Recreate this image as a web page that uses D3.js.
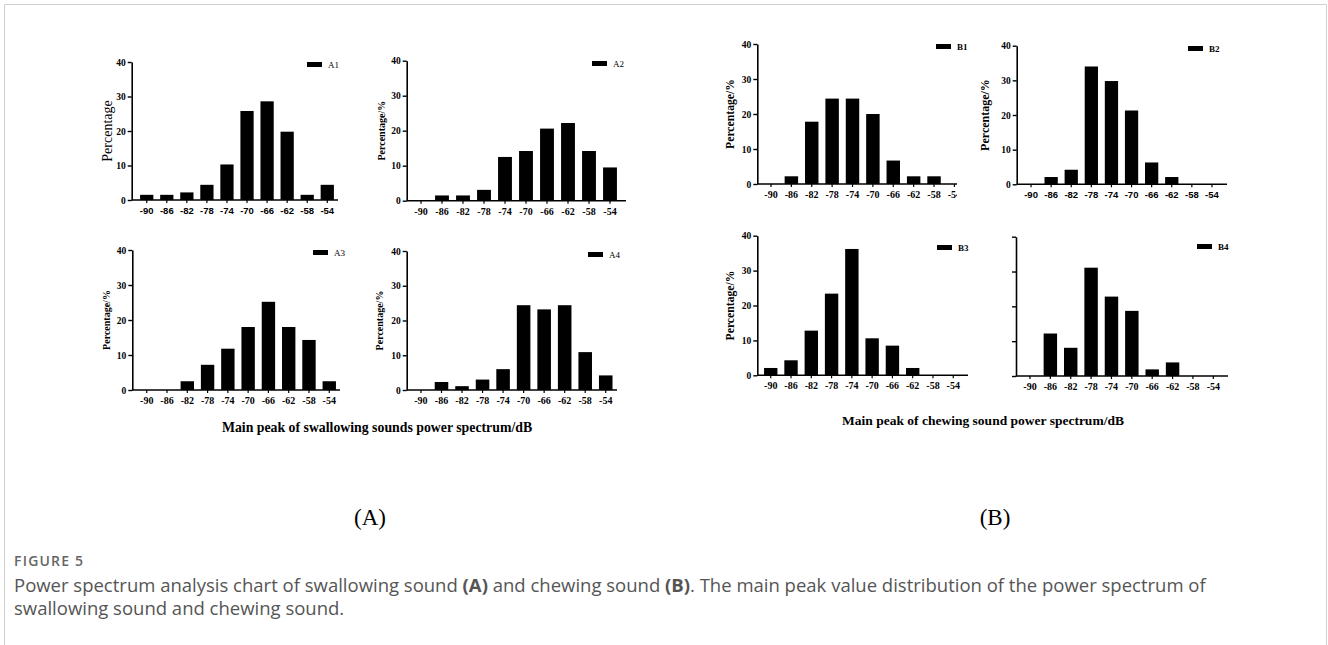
<!DOCTYPE html>
<html>
<head>
<meta charset="utf-8">
<script src="https://cdn.jsdelivr.net/npm/d3@7"></script>
<style>
  body { margin: 0; background: #fff; }
  svg { display: block; }
</style>
</head>
<body>
<svg id="figure"></svg>
<script>
// Categories (main peak, dB) and percentages per panel
const categories = ["-90", "-86", "-82", "-78", "-74", "-70", "-66", "-62", "-58", "-54"];
const yTickValues = [0, 10, 20, 30, 40];

// swallowing sounds
const a1Values = [1.5, 1.5, 2.2, 4.4, 10.3, 25.8, 28.6, 19.8, 1.5, 4.4];
const a2Values = [0, 1.5, 1.5, 3.1, 12.5, 14.2, 20.6, 22.2, 14.2, 9.5];
const a3Values = [0, 0, 2.5, 7.2, 11.8, 18.0, 25.2, 18.0, 14.3, 2.5];
const a4Values = [0, 2.3, 1.1, 3.0, 6.0, 24.4, 23.2, 24.4, 10.9, 4.2];

// chewing sounds
const b1Values = [0, 2.2, 17.8, 24.4, 24.4, 20.0, 6.7, 2.2, 2.2, 0];
const b2Values = [0, 2.1, 4.2, 34.0, 29.8, 21.3, 6.3, 2.1, 0, 0];
const b3Values = [2.1, 4.3, 12.8, 23.4, 36.2, 10.6, 8.5, 2.1, 0, 0];
const b4Values = [0, 12.2, 8.1, 31.1, 22.8, 18.7, 1.9, 3.9, 0, 0];

const serif = "'Liberation Serif', 'Times New Roman', serif";
const sans = "'Liberation Sans', Arial, sans-serif";

var svg = d3.select('#figure')
    .attr("width", 1328)
    .attr("height", 645);

// page frame
svg.append("path")
    .attr("d", "M4.5,645 V4.5 H1326.5 V645")
    .attr("fill", "none")
    .attr("stroke", "#cfcfcf")
    .attr("stroke-width", 1);

// panel layout: axis origin, band range, y pixel of 0 and 40
var panels = [
    { id: "a1", name: "A1", values: a1Values, axisX: 131.7, axisEnd: 338, band: [136.7, 337.3], y0: 200, y40: 62,
      title: "Percentage", titleX: 107, titleBold: false, titleSize: 14, tickFont: sans, tickSize: 9.5, legX: 307, legY: 62 },
    { id: "a2", name: "A2", values: a2Values, axisX: 406.7, axisEnd: 626, band: [410.5, 620.5], y0: 200.7, y40: 60.7,
      title: "Percentage/%", titleX: 381, titleBold: true, titleSize: 10, tickFont: serif, tickSize: 10, legX: 592, legY: 61 },
    { id: "a3", name: "A3", values: a3Values, axisX: 132.3, axisEnd: 340, band: [136.6, 339.4], y0: 390, y40: 250,
      title: "Percentage/%", titleX: 106, titleBold: true, titleSize: 10, tickFont: serif, tickSize: 10, legX: 313, legY: 250 },
    { id: "a4", name: "A4", values: a4Values, axisX: 406.7, axisEnd: 617, band: [410.7, 616], y0: 390, y40: 251,
      title: "Percentage/%", titleX: 379, titleBold: true, titleSize: 10, tickFont: serif, tickSize: 10, legX: 588, legY: 252 },
    { id: "b1", name: "B1", values: b1Values, axisX: 757.3, axisEnd: 957, band: [760.8, 964.6], y0: 184, y40: 44,
      title: "Percentage/%", titleX: 730, titleBold: true, titleSize: 11.7, tickFont: serif, tickSize: 10, legX: 936, legY: 44, clipX: 957 },
    { id: "b2", name: "B2", values: b2Values, axisX: 1016.7, axisEnd: 1227, band: [1021, 1222], y0: 184.3, y40: 45.7,
      title: "Percentage/%", titleX: 985, titleBold: true, titleSize: 12, tickFont: sans, tickSize: 9.5, legX: 1188, legY: 46 },
    { id: "b3", name: "B3", values: b3Values, axisX: 757.3, axisEnd: 968, band: [760.6, 963.4], y0: 375.3, y40: 235.7,
      title: "Percentage/%", titleX: 730, titleBold: true, titleSize: 11.7, tickFont: serif, tickSize: 10, legX: 937, legY: 245 },
    { id: "b4", name: "B4", values: b4Values, axisX: 1016, axisEnd: 1228, band: [1019.8, 1223.5], y0: 376, y40: 236.7,
      title: null, noYLabels: true, tickFont: serif, tickSize: 10, legX: 1197, legY: 244 }
];

panels.forEach(function (p) {
    var g = svg.append("g");

    // B1 is cut off on its right edge in the original
    if (p.clipX) {
        svg.append("clipPath").attr("id", "clip-" + p.id)
            .append("rect").attr("x", 0).attr("y", 0).attr("width", p.clipX).attr("height", 645);
        g.attr("clip-path", "url(#clip-" + p.id + ")");
    }

    const x = d3.scaleBand()
        .domain(categories)
        .range(p.band)
        .paddingInner(0.34)
        .paddingOuter(0.17);

    const y = d3.scaleLinear()
        .domain([0, 40])
        .range([p.y0, p.y40]);

    // bars
    g.selectAll("rect.bar")
        .data(p.values)
        .enter().append("rect")
        .attr("class", "bar")
        .attr("x", (d, i) => x(categories[i]))
        .attr("width", x.bandwidth())
        .attr("y", d => y(d))
        .attr("height", d => p.y0 - y(d))
        .attr("fill", "#000");

    // X axis
    var xAxis = g.append("g")
        .attr("transform", `translate(0, ${p.y0})`)
        .call(d3.axisBottom(x).tickSize(3).tickPadding(4).tickSizeOuter(0));
    xAxis.select(".domain").remove();
    xAxis.append("line")
        .attr("x1", p.axisX).attr("x2", p.axisEnd)
        .attr("stroke", "#000").attr("stroke-width", 1.6);
    xAxis.selectAll(".tick line").attr("stroke", "#000").attr("stroke-width", 1.2);
    xAxis.selectAll(".tick text")
        .attr("fill", "#000")
        .style("font-family", p.tickFont)
        .style("font-size", p.tickSize + "px")
        .style("font-weight", "bold");

    // Y axis
    var yAxis = g.append("g")
        .attr("transform", `translate(${p.axisX}, 0)`)
        .call(d3.axisLeft(y).tickValues(yTickValues).tickSize(4).tickPadding(2).tickSizeOuter(0));
    yAxis.select(".domain").attr("stroke", "#000").attr("stroke-width", 1.6);
    yAxis.selectAll(".tick line").attr("stroke", "#000").attr("stroke-width", 1.4);
    yAxis.selectAll(".tick text")
        .attr("fill", "#000")
        .style("font-family", serif)
        .style("font-size", "9.5px")
        .style("font-weight", "bold");
    if (p.noYLabels) yAxis.selectAll(".tick text").remove();

    // Y axis title
    if (p.title) {
        svg.append("text")
            .attr("transform", `translate(${p.titleX}, ${(p.y0 + p.y40) / 2}) rotate(-90)`)
            .attr("text-anchor", "middle")
            .attr("dy", "0.35em")
            .style("font-family", serif)
            .style("font-size", p.titleSize + "px")
            .style("font-weight", p.titleBold ? "bold" : "normal")
            .text(p.title);
    }

    // legend (kept outside the clipped group)
    svg.append("rect")
        .attr("x", p.legX).attr("y", p.legY)
        .attr("width", 15).attr("height", 5)
        .attr("fill", "#000");
    svg.append("text")
        .attr("x", p.legX + 21).attr("y", p.legY + 2.5)
        .attr("dy", "0.35em")
        .style("font-family", serif)
        .style("font-size", "9px")
        .style("font-weight", p.id[0] === "b" ? "bold" : "normal")
        .text(p.name);
});

// shared x axis titles
svg.append("text")
    .attr("x", 377).attr("y", 427)
    .attr("text-anchor", "middle").attr("dy", "0.35em")
    .style("font-family", serif).style("font-size", "13.8px").style("font-weight", "bold")
    .text("Main peak of swallowing sounds power spectrum/dB");

svg.append("text")
    .attr("x", 983).attr("y", 420)
    .attr("text-anchor", "middle").attr("dy", "0.35em")
    .style("font-family", serif).style("font-size", "13.5px").style("font-weight", "bold")
    .text("Main peak of chewing sound power spectrum/dB");

// sub figure letters
svg.append("text")
    .attr("x", 370).attr("y", 517)
    .attr("text-anchor", "middle").attr("dy", "0.35em")
    .style("font-family", serif).style("font-size", "23px")
    .text("(A)");

svg.append("text")
    .attr("x", 995).attr("y", 517)
    .attr("text-anchor", "middle").attr("dy", "0.35em")
    .style("font-family", serif).style("font-size", "23px")
    .text("(B)");

// caption
svg.append("text")
    .attr("x", 14).attr("y", 566)
    .style("font-family", "'Open Sans', sans-serif").style("font-size", "14px")
    .style("font-weight", "600").style("letter-spacing", "1.2px").attr("fill", "#666")
    .text("FIGURE 5");

var cap1 = svg.append("text")
    .attr("x", 14).attr("y", 592)
    .style("font-family", "'Open Sans', sans-serif").style("font-size", "18.5px")
    .attr("fill", "#555");
cap1.append("tspan").text("Power spectrum analysis chart of swallowing sound ");
cap1.append("tspan").style("font-weight", "bold").text("(A)");
cap1.append("tspan").text(" and chewing sound ");
cap1.append("tspan").style("font-weight", "bold").text("(B)");
cap1.append("tspan").text(". The main peak value distribution of the power spectrum of");

svg.append("text")
    .attr("x", 14).attr("y", 615)
    .style("font-family", "'Open Sans', sans-serif").style("font-size", "18.5px")
    .attr("fill", "#555")
    .text("swallowing sound and chewing sound.");
</script>
</body>
</html>
